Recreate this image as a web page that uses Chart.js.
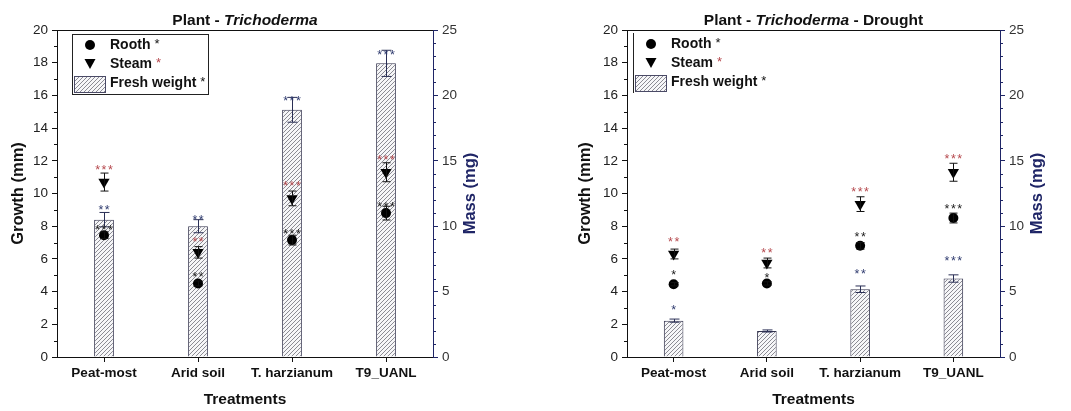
<!DOCTYPE html>
<html>
<head>
<meta charset="utf-8">
<script src="https://cdn.jsdelivr.net/npm/chart.js@4.4.1/dist/chart.umd.min.js"></script>
<style>
  body { margin: 0; background: #fff; }
  .panel { position: absolute; top: 0; height: 411px; }
</style>
</head>
<body>
<div class="panel" style="left:0;width:535px"><canvas id="chartA" width="535" height="411"></canvas></div>
<div class="panel" style="left:535px;width:536px"><canvas id="chartB" width="536" height="411"></canvas></div>
<script>
const treatments = ["Peat-most", "Arid soil", "T. harzianum", "T9_UANL"];

// Plant - Trichoderma
const massA = [10.5, 10.0, 18.9, 22.45];
const massErrA = [0.55, 0.5, 0.95, 1.0];
const roothA = [7.45, 4.5, 7.15, 8.8];
const roothErrA = [0.2, 0.15, 0.3, 0.42];
const steamA = [10.7, 6.4, 9.7, 11.3];
const steamErrA = [0.55, 0.35, 0.45, 0.58];
const massSigA = ["**", "**", "***", "***"];
const massSigYA = [9.16, 8.58, 15.86, 18.67];
const roothSigA = ["***", "**", "***", "***"];
const roothSigYA = [7.97, 5.08, 7.73, 9.36];
const steamSigA = ["***", "**", "***", "***"];
const steamSigYA = [11.64, 7.2, 10.62, 12.21];

// Plant - Trichoderma - Drought
const massB = [2.78, 1.99, 5.18, 6.0];
const massErrB = [0.12, 0.08, 0.25, 0.28];
const roothB = [4.45, 4.5, 6.8, 8.5];
const roothErrB = [0.1, 0.1, 0.2, 0.3];
const steamB = [6.3, 5.75, 9.35, 11.3];
const steamErrB = [0.3, 0.3, 0.45, 0.55];
const massSigB = ["*", "", "**", "***"];
const massSigYB = [3.08, 0, 5.28, 6.07];
const roothSigB = ["*", "*", "**", "***"];
const roothSigYB = [5.22, 5.02, 7.52, 9.25];
const steamSigB = ["**", "**", "***", "***"];
const steamSigYB = [7.22, 6.54, 10.28, 12.31];

const FONT = "'Liberation Sans', Arial, sans-serif";
const NAVY = "#1f2566";
const RED = "#b5474c";
const SIG_NAVY = "#2e3a6e";

function hatchPattern() {
  const c = document.createElement("canvas");
  c.width = 4; c.height = 4;
  const g = c.getContext("2d");
  g.fillStyle = "#f6f6f8";
  g.fillRect(0, 0, 4, 4);
  g.strokeStyle = "#707078";
  g.lineWidth = 0.8;
  g.beginPath();
  g.moveTo(0, 4); g.lineTo(4, 0);
  g.moveTo(-1, 1); g.lineTo(1, -1);
  g.moveTo(3, 5); g.lineTo(5, 3);
  g.stroke();
  return g.createPattern(c, "repeat");
}

const errorBars = {
  id: "errorBars",
  afterDatasetDraw(chart, args) {
    const ds = chart.data.datasets[args.index];
    if (!ds.errors) return;
    const ctx = chart.ctx;
    const ys = chart.scales[ds.yAxisID];
    ctx.save();
    ctx.strokeStyle = ds.errColor;
    ctx.lineWidth = 1;
    args.meta.data.forEach((el, i) => {
      const x = Math.round(el.x) + 0.5;
      const top = ys.getPixelForValue(ds.data[i] + ds.errors[i]);
      const bot = ys.getPixelForValue(ds.data[i] - ds.errors[i]);
      const w = ds.capWidth;
      ctx.beginPath();
      ctx.moveTo(x, top); ctx.lineTo(x, bot);
      ctx.moveTo(x - w, top); ctx.lineTo(x + w, top);
      ctx.moveTo(x - w, bot); ctx.lineTo(x + w, bot);
      ctx.stroke();
    });
    ctx.restore();
  }
};

const sigLabels = {
  id: "sigLabels",
  afterDatasetsDraw(chart) {
    const ctx = chart.ctx;
    const ys = chart.scales.y;
    chart.data.datasets.forEach((ds, di) => {
      if (!ds.sig) return;
      const meta = chart.getDatasetMeta(di);
      ctx.save();
      ctx.font = "12.5px " + FONT;
      ctx.fillStyle = ds.sigColor;
      ctx.textAlign = "center";
      ctx.textBaseline = "alphabetic";
      if ("letterSpacing" in ctx) ctx.letterSpacing = "1.5px";
      ds.sig.forEach((s, i) => {
        if (!s) return;
        ctx.fillText(s, meta.data[i].x + 0.75, ys.getPixelForValue(ds.sigY[i]) + 7);
      });
      ctx.restore();
    });
  }
};

function drawRuns(ctx, runs, cx, y) {
  let total = 0;
  runs.forEach(r => { ctx.font = r.font; r.w = ctx.measureText(r.text).width; total += r.w; });
  let x = cx - total / 2;
  runs.forEach(r => { ctx.font = r.font; ctx.fillText(r.text, x, y); x += r.w; });
}

const frame = {
  id: "frame",
  afterDraw(chart, args, o) {
    const ctx = chart.ctx;
    const a = chart.chartArea;
    const y = chart.scales.y, y2 = chart.scales.y2;
    ctx.save();

    // top border
    ctx.strokeStyle = "#111";
    ctx.lineWidth = 1;
    ctx.beginPath();
    ctx.moveTo(a.left, a.top + 0.5); ctx.lineTo(a.right, a.top + 0.5);
    ctx.stroke();

    // minor ticks
    ctx.beginPath();
    for (let v = 1; v < 20; v += 2) {
      const p = Math.round(y.getPixelForValue(v)) + 0.5;
      ctx.moveTo(a.left - 3, p); ctx.lineTo(a.left, p);
    }
    ctx.stroke();
    ctx.strokeStyle = NAVY;
    ctx.beginPath();
    for (let v = 1; v < 25; v++) {
      if (v % 5 === 0) continue;
      const p = Math.round(y2.getPixelForValue(v)) + 0.5;
      ctx.moveTo(a.right, p); ctx.lineTo(a.right + 3, p);
    }
    ctx.stroke();

    // right axis title (reads bottom to top)
    ctx.save();
    ctx.translate(a.right + 37, (a.top + a.bottom) / 2);
    ctx.rotate(-Math.PI / 2);
    ctx.fillStyle = NAVY;
    ctx.font = "bold 16.5px " + FONT;
    ctx.textAlign = "center";
    ctx.textBaseline = "middle";
    ctx.fillText("Mass (mg)", 0, 0);
    ctx.restore();

    // chart title
    ctx.fillStyle = "#111";
    ctx.textBaseline = "alphabetic";
    drawRuns(ctx, o.title.map(t => ({
      text: t[0],
      font: (t[1] ? "italic bold 15.5px " : "bold 15.5px ") + FONT
    })), (a.left + a.right) / 2, 25);

    // legend
    const L = o.legend;
    ctx.strokeStyle = "#222";
    if (L.box) {
      ctx.strokeRect(L.x + 0.5, L.y + 0.5, L.w, L.h);
    } else {
      ctx.beginPath();
      ctx.moveTo(L.x + 0.5, L.y); ctx.lineTo(L.x + 0.5, L.y + L.h);
      ctx.stroke();
    }
    ctx.fillStyle = "#000";
    ctx.beginPath();
    ctx.arc(L.sx, L.y + 11, 5, 0, Math.PI * 2);
    ctx.fill();
    ctx.beginPath();
    ctx.moveTo(L.sx - 5.5, L.y + 25);
    ctx.lineTo(L.sx + 5.5, L.y + 25);
    ctx.lineTo(L.sx, L.y + 35);
    ctx.closePath();
    ctx.fill();
    ctx.fillStyle = o.pattern;
    ctx.fillRect(L.sx - 16, L.y + 42, 31, 16);
    ctx.strokeStyle = "#4a4a66";
    ctx.strokeRect(L.sx - 15.5, L.y + 42.5, 31, 16);

    const rows = [["Rooth", "#111", 11], ["Steam", RED, 30], ["Fresh weight", "#111", 49]];
    ctx.textBaseline = "middle";
    rows.forEach(r => {
      ctx.font = "bold 14px " + FONT;
      ctx.fillStyle = "#111";
      ctx.fillText(r[0], L.tx, L.y + r[2]);
      const w = ctx.measureText(r[0]).width;
      ctx.font = "13px " + FONT;
      ctx.fillStyle = r[1];
      ctx.fillText("*", L.tx + w + 4, L.y + r[2] - 1);
    });
    ctx.restore();
  }
};

function makeChart(id, d) {
  const pattern = hatchPattern();
  const tickFont = { family: FONT, size: 13.5 };
  return new Chart(document.getElementById(id), {
    type: "bar",
    data: {
      labels: treatments,
      datasets: [
        {
          type: "bar", label: "Fresh weight", data: d.mass, yAxisID: "y2", order: 3,
          errors: d.massErr, errColor: "#2a2f55", capWidth: 5,
          sig: d.massSig, sigY: d.massSigY, sigColor: SIG_NAVY,
          backgroundColor: pattern, borderColor: "#35354f", borderWidth: 1,
          barPercentage: 0.21, categoryPercentage: 1
        },
        {
          type: "line", label: "Steam", data: d.steam, yAxisID: "y", order: 2,
          errors: d.steamErr, errColor: "#111", capWidth: 4,
          sig: d.steamSig, sigY: d.steamSigY, sigColor: RED,
          showLine: false, pointStyle: "triangle", pointRotation: 180, pointRadius: 6.5,
          backgroundColor: "#000", borderColor: "#000", borderWidth: 0
        },
        {
          type: "line", label: "Rooth", data: d.rooth, yAxisID: "y", order: 1,
          errors: d.roothErr, errColor: "#111", capWidth: 4,
          sig: d.roothSig, sigY: d.roothSigY, sigColor: "#1a1a1a",
          showLine: false, pointStyle: "circle", pointRadius: 5,
          backgroundColor: "#000", borderColor: "#000", borderWidth: 0
        }
      ]
    },
    options: {
      responsive: false,
      animation: false,
      layout: { padding: { top: 30, bottom: 0, left: d.padLeft, right: d.padRight } },
      plugins: {
        legend: { display: false },
        tooltip: { enabled: false },
        frame: { title: d.title, legend: d.legend, pattern: pattern }
      },
      scales: {
        x: {
          offset: true,
          grid: { display: true, drawOnChartArea: false, offset: false, tickLength: 5, tickColor: "#111" },
          border: { display: true, color: "#111", width: 1 },
          ticks: { color: "#111", font: { family: FONT, size: 13.5, weight: "bold" }, padding: 3, maxRotation: 0, autoSkip: false },
          title: { display: true, text: "Treatments", color: "#111", font: { family: FONT, size: 15.5, weight: "bold" }, padding: { top: 0, bottom: 2 } },
          afterFit: s => { s.height = 54; }
        },
        y: {
          position: "left", min: 0, max: 20,
          grid: { display: true, drawOnChartArea: false, tickLength: 5, tickColor: "#111" },
          border: { display: true, color: "#111", width: 1 },
          ticks: { stepSize: 2, color: "#222", font: tickFont, padding: 4 },
          title: { display: true, text: "Growth (mm)", color: "#111", font: { family: FONT, size: 16.5, weight: "bold" }, padding: { top: 9, bottom: 0 } },
          afterFit: s => { s.width = d.yWidth; }
        },
        y2: {
          position: "right", min: 0, max: 25,
          grid: { display: true, drawOnChartArea: false, tickLength: 5, tickColor: NAVY },
          border: { display: true, color: NAVY, width: 1 },
          ticks: { stepSize: 5, color: "#333", font: tickFont, padding: 4 },
          afterFit: s => { s.width = 60; }
        }
      }
    },
    plugins: [errorBars, sigLabels, frame]
  });
}

makeChart("chartA", {
  mass: massA, massErr: massErrA, massSig: massSigA, massSigY: massSigYA,
  rooth: roothA, roothErr: roothErrA, roothSig: roothSigA, roothSigY: roothSigYA,
  steam: steamA, steamErr: steamErrA, steamSig: steamSigA, steamSigY: steamSigYA,
  padLeft: 0, padRight: 42, yWidth: 57,
  title: [["Plant - ", false], ["Trichoderma", true]],
  legend: { box: true, x: 72, y: 34, w: 136, h: 60, sx: 90, tx: 110 }
});

makeChart("chartB", {
  mass: massB, massErr: massErrB, massSig: massSigB, massSigY: massSigYB,
  rooth: roothB, roothErr: roothErrB, roothSig: roothSigB, roothSigY: roothSigYB,
  steam: steamB, steamErr: steamErrB, steamSig: steamSigB, steamSigY: steamSigYB,
  padLeft: 32, padRight: 11, yWidth: 60,
  title: [["Plant - ", false], ["Trichoderma", true], [" - Drought", false]],
  legend: { box: false, x: 98, y: 33, w: 0, h: 60, sx: 116, tx: 136 }
});
</script>
</body>
</html>
